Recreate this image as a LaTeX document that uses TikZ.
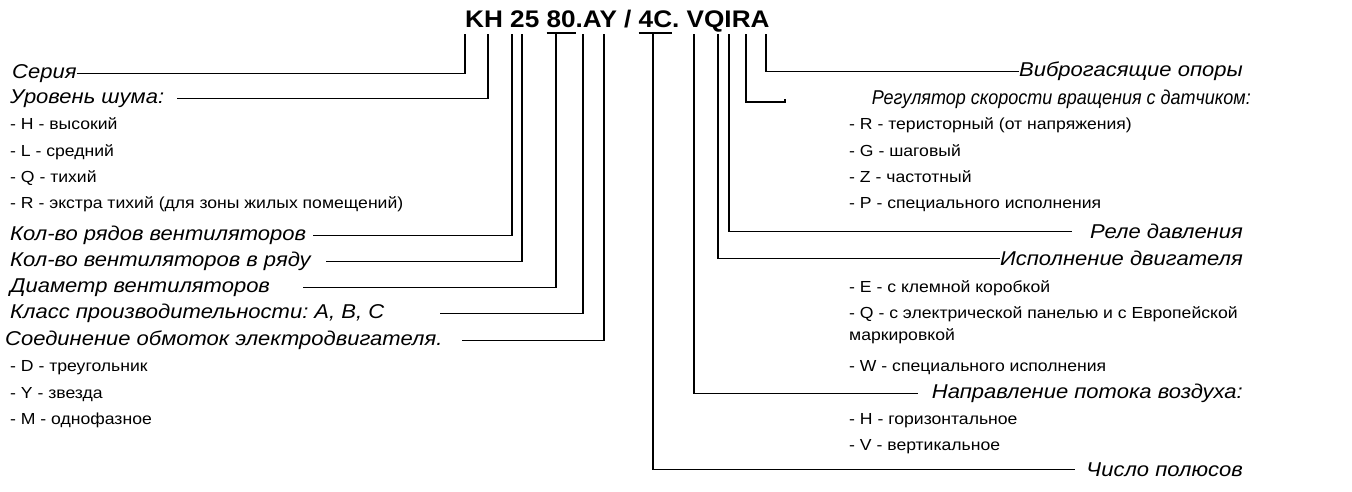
\documentclass[tikz,border=0pt]{standalone}
\usepackage{fontspec}
\setmainfont{Liberation Sans}[BoldFont={* Bold}, ItalicFont={* Italic}]
\newfontfamily\codefont{Liberation Sans}[FakeStretch=1.09, BoldFont={* Bold}]
\newfontfamily\headfont{Liberation Sans}[FakeStretch=1.1, ItalicFont={* Italic}]
\newfontfamily\narrowfont{Liberation Sans}[FakeStretch=0.9, ItalicFont={* Italic}]
\newfontfamily\itemfont{Liberation Sans}[FakeStretch=1.1]
\usetikzlibrary{positioning}
\newcommand\codeul[1]{\sbox0{#1}\rlap{\rule[-7pt]{\wd0}{2.5pt}}\usebox0}

\begin{document}
\frenchspacing
\begin{tikzpicture}[x=1pt,y=-1pt,
    code/.style={font=\codefont\fontsize{24}{28}\selectfont\bfseries, inner sep=0pt, anchor=base west},
    head/.style={font=\headfont\fontsize{20}{24}\selectfont\itshape, inner sep=0pt},
    item/.style={font=\itemfont\fontsize{16}{19}\selectfont, inner sep=0pt, anchor=mid west},
    lead/.style={line width=1.1pt}
]
\useasboundingbox (0,0) rectangle (1352,491);

% Model code
\node[code] (model) at (465,27) {KH 25 \codeul{80}.AY / \codeul{4C}. VQIRA};

% Tops of the leaders under the letters
\foreach \n/\x in {tK/465, tH/488, tR2/512, tR5/522, tD/556, tA/583, tY/604,
                   tP/653, tV/694, tQ/718, tI/729, tRr/746, tAa/766}
  \coordinate (\n) at (\x,34);

% Left side
\node[head, anchor=mid west] (series) at (12,76) {Серия};
\node[head, anchor=mid west] (noise) at (10,101) {Уровень шума:};
\foreach \t [count=\i] in {H - высокий, L - средний, Q - тихий,
                           R - экстра тихий (для зоны жилых помещений)}
  \node[item] (noise\i) at (10,101+26.3*\i) {- \t};
\node[head, anchor=mid west] (rows) at (10,238) {Кол-во рядов вентиляторов};
\node[head, anchor=mid west] (perrow) at (10,264) {Кол-во вентиляторов в ряду};
\node[head, anchor=mid west] (diam) at (10,290) {Диаметр вентиляторов};
\node[head, anchor=mid west] (klass) at (10,316) {Класс производительности: А, В, С};
\node[head, anchor=mid west] (wind) at (5,343) {Соединение обмоток электродвигателя.};
\foreach \t [count=\i] in {D -  треугольник, Y - звезда, M - однофазное}
  \node[item] (wind\i) at (10,343+26.3*\i) {- \t};

\draw[lead] (series.east) -| (tK);
\draw[lead] (177,0 |- noise.east) -| (tH);
\draw[lead] (313,0 |- rows.east) -| (tR2);
\draw[lead] (326,0 |- perrow.east) -| (tR5);
\draw[lead] (303,0 |- diam.east) -| (tD);
\draw[lead] (440,0 |- klass.east) -| (tA);
\draw[lead] (462,0 |- wind.east) -| (tY);

% Right side
\node[head, anchor=mid east] (damp) at (1243,74) {Виброгасящие опоры};
\node[head, anchor=mid east, font=\narrowfont\fontsize{20}{24}\selectfont\itshape] (speed) at (1251,102) {Регулятор скорости вращения с датчиком:};
\foreach \t [count=\i] in {R - теристорный (от напряжения), G - шаговый,
                           Z - частотный, P - специального исполнения}
  \node[item] (speed\i) at (849,101+26.3*\i) {- \t};
\node[head, anchor=mid east] (relay) at (1243,236) {Реле давления};
\node[head, anchor=mid east] (motor) at (1243,263) {Исполнение двигателя};
\node[item] (motor1) at (849,290) {- E - с клемной коробкой};
\node[item] (motor2) at (849,316) {- Q - с электрической панелью и с Европейской};
\node[item] (motor2b) at (849,338) {маркировкой};
\node[item] (motor3) at (849,369) {- W - специального исполнения};
\node[head, anchor=mid east] (flow) at (1243,396) {Направление потока воздуха:};
\node[item] (flow1) at (849,422) {- H - горизонтальное};
\node[item] (flow2) at (849,448) {- V - вертикальное};
\node[head, anchor=mid east] (poles) at (1243,474) {Число полюсов};

\coordinate (speedend) at (785,102);
\draw[lead] (tAa) |- (damp.west);
\draw[lead] (tRr) |- (speedend) -- ++(0,-3);
\draw[lead] (tI) |- (1072,0 |- relay.west);
\draw[lead] (tQ) |- (motor.west);
\draw[lead] (tV) |- (918,0 |- flow.west);
\draw[lead] (tP) |- (1075,0 |- poles.west);

\end{tikzpicture}
\end{document}
